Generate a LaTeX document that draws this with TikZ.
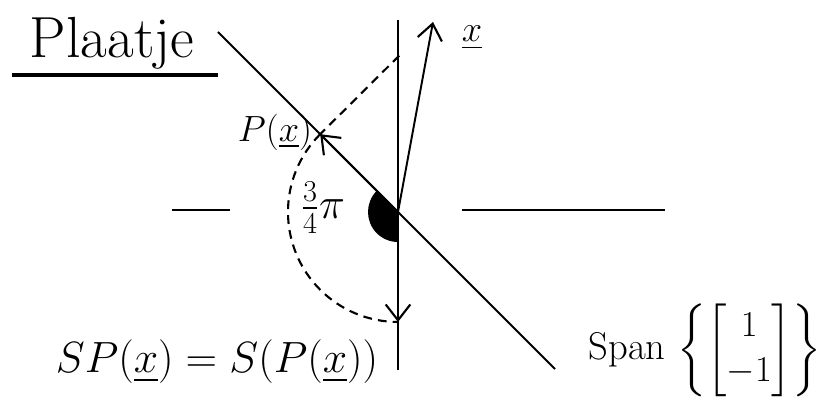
\documentclass[tikz,border=0pt]{standalone}
\usepackage{amsmath}
\usepackage{amssymb}
\usetikzlibrary{arrows.meta,calc}

\begin{document}
\begin{tikzpicture}[scale=2, line width=1.1pt,
    vec/.style={-{Straight Barb[length=9pt,width=14pt,line width=1.2pt]}},
    proj/.style={dash pattern=on 5pt off 3.5pt, line width=1.2pt}]
    \useasboundingbox (0,0) rectangle (8.3,4);
    % points
    \coordinate (O) at (3.98,1.88);
    \coordinate (top) at (3.98,3.8);
    \coordinate (bot) at (3.98,0.3);
    \coordinate (X) at (4.33,3.78);
    \coordinate (P) at (3.202,2.658);
    \coordinate (SP) at (3.98,0.78);
    \coordinate (lstart) at (2.18,3.68);
    \coordinate (lend) at (5.55,0.31);
    \coordinate (pstart) at ($(X)!0.3!(P)$);
    % title
    \node (title) at (1.12,3.57) {\fontsize{33}{40}\selectfont Plaatje};
    \draw[line width=2pt] (0.12,3.25) -- (2.18,3.25);
    % axes pieces
    \draw (1.72,1.9) -- (2.3,1.9);
    \draw (4.62,1.9) -- (6.65,1.9);
    \draw (bot) -- (top);
    \draw (lstart) -- (lend);
    % angle
    \fill (O) -- ++(135:0.3) arc[start angle=135, end angle=270, radius=0.3] -- cycle;
    % vectors
    \draw[vec] (O) -- (X);
    \draw[proj] (pstart) -- (P);
    \draw[vec] (O) -- (P);
    \draw[proj] (P) arc[start angle=135, end angle=270, radius=1.1];
    \draw[vec] (O) -- (SP);
    % labels
    \node (xlab) at (4.72,3.62) {\fontsize{22}{26}\selectfont $\underline{x}$};
    \node (plab) at (2.75,2.68) {\fontsize{20}{24}\selectfont $P(\underline{x})$};
    \node[inner sep=1pt] (anglab) at (3.23,1.92) {\fontsize{26}{30}\selectfont $\tfrac{3}{4}\pi$};
    \node (eq) at (2.17,0.38) {\fontsize{30}{34}\selectfont $SP(\underline{x}) = S(P(\underline{x}))$};
    \node (span) at (7.05,0.5) {\fontsize{22}{26}\selectfont Span $\left\{\begin{bmatrix}1\\-1\end{bmatrix}\right\}$};
\end{tikzpicture}
\end{document}
